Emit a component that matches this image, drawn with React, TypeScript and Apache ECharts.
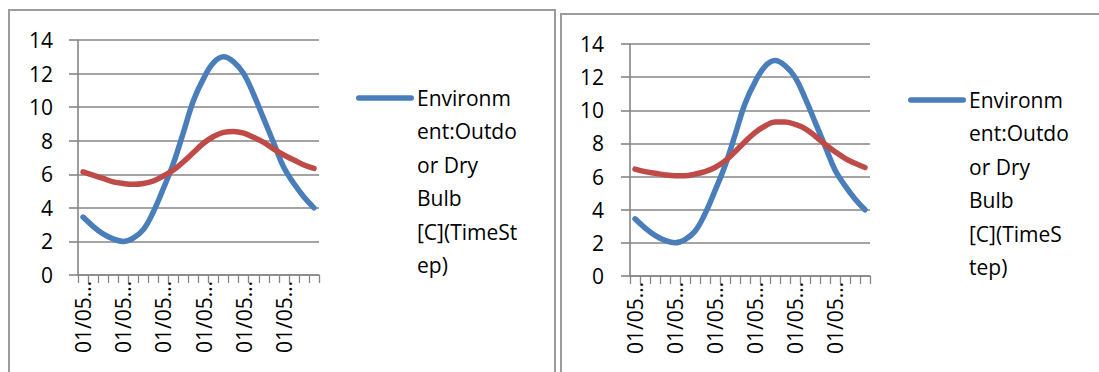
import React, { useEffect, useRef } from "react";
import * as echarts from "echarts";

// ---- data ----
const HOURS = ["01","02","03","04","05","06","07","08","09","10","11","12","13","14","15","16","17","18","19","20","21","22","23","24"];
const CATEGORIES = HOURS.map((h) => `01/05  ${h}:00:00`);

const OUTDOOR_NAME = "Environment:Outdoor Dry Bulb [C](TimeStep)";
const SECOND_NAME = "Series2";

const outdoorDryBulb = [3.45, 2.9, 2.45, 2.15, 2.0, 2.2, 2.7, 3.75, 5.15, 6.65, 8.5, 10.4, 11.7, 12.65, 13.0, 12.7, 12.0, 10.75, 9.3, 7.85, 6.4, 5.45, 4.65, 4.0];
const redLeft = [6.15, 5.95, 5.75, 5.55, 5.45, 5.4, 5.45, 5.6, 5.9, 6.25, 6.75, 7.3, 7.85, 8.25, 8.5, 8.55, 8.45, 8.2, 7.9, 7.5, 7.15, 6.85, 6.55, 6.35];
const redRight = [6.45, 6.3, 6.2, 6.1, 6.05, 6.05, 6.15, 6.3, 6.55, 6.95, 7.5, 8.1, 8.65, 9.05, 9.3, 9.3, 9.15, 8.9, 8.45, 7.95, 7.5, 7.1, 6.8, 6.55];

const Y_MIN = 0;
const Y_MAX = 14;
const Y_STEP = 2;

const LEGEND_LINES_LEFT = ["Environm", "ent:Outdo", "or Dry", "Bulb", "[C](TimeSt", "ep)"];
const LEGEND_LINES_RIGHT = ["Environm", "ent:Outdo", "or Dry", "Bulb", "[C](TimeS", "tep)"];

// ---- style ----
const FONT = '"Open Sans", sans-serif';
const BLUE = "#4a7ebb";
const RED = "#be4b48";
const GRID_GRAY = "#868686";
const BOX_GRAY = "#9c9c9c";
const AXIS_FONT_SIZE = 21;
const LEGEND_FONT_SIZE = 21;

function makeAxes(gridIndex: number, labelMargin: number) {
  const xAxis = {
    type: "category",
    gridIndex,
    data: CATEGORIES,
    boundaryGap: true,
    axisLine: { lineStyle: { color: GRID_GRAY, width: 1.6 } },
    axisTick: { show: true, interval: 0, length: 8, lineStyle: { color: GRID_GRAY, width: 1.3 } },
    axisLabel: {
      interval: 3,
      rotate: 90,
      margin: 6,
      color: "#000",
      fontFamily: FONT,
      fontSize: AXIS_FONT_SIZE,
      formatter: (v: string) => v.slice(0, 5) + "\u2026",
    },
    splitLine: { show: false },
  };
  const yAxis = {
    type: "value",
    gridIndex,
    min: Y_MIN,
    max: Y_MAX,
    interval: Y_STEP,
    axisLine: { show: true, lineStyle: { color: GRID_GRAY, width: 1.6 } },
    axisTick: { show: true, length: 9, lineStyle: { color: GRID_GRAY, width: 1.6 } },
    axisLabel: { margin: labelMargin, color: "#000", fontFamily: FONT, fontSize: AXIS_FONT_SIZE },
    splitLine: { show: true, lineStyle: { color: GRID_GRAY, width: 1.6 } },
  };
  return { xAxis, yAxis };
}

function lineSeries(name: string, data: number[], color: string, idx: number) {
  return {
    type: "line",
    name,
    data,
    xAxisIndex: idx,
    yAxisIndex: idx,
    smooth: 0.4,
    showSymbol: false,
    symbol: "none",
    lineStyle: { color, width: 5.5, cap: "round", join: "round" },
    itemStyle: { color },
    z: color === BLUE ? 3 : 4,
  };
}

function legendGraphic(x: number, cy: number, lines: string[]) {
  return [
    {
      type: "rect",
      silent: true,
      shape: { x: x, y: cy - 2.75, width: 58, height: 5.5, r: 2.75 },
      style: { fill: BLUE },
    },
    {
      type: "text",
      silent: true,
      x: x + 61,
      y: cy - 16.7,
      style: {
        text: lines.join("\n"),
        fontFamily: FONT,
        fontSize: LEGEND_FONT_SIZE,
        lineHeight: 33.4,
        fill: "#000",
        align: "left",
        verticalAlign: "top",
      },
    },
  ];
}

export default function App() {
  const ref = useRef<HTMLDivElement>(null);

  useEffect(() => {
    if (!ref.current) return;
    const chart = echarts.init(ref.current, undefined, { renderer: "svg" });
    const a0 = makeAxes(0, 25);
    const a1 = makeAxes(1, 26);
    chart.setOption({
      animation: false,
      backgroundColor: "#fff",
      grid: [
        { left: 78, top: 40, width: 241, height: 235 },
        { left: 630, top: 44, width: 240, height: 232 },
      ],
      xAxis: [a0.xAxis, a1.xAxis],
      yAxis: [a0.yAxis, a1.yAxis],
      series: [
        lineSeries(OUTDOOR_NAME, outdoorDryBulb, BLUE, 0),
        lineSeries(SECOND_NAME, redLeft, RED, 0),
        lineSeries(OUTDOOR_NAME, outdoorDryBulb, BLUE, 1),
        lineSeries(SECOND_NAME, redRight, RED, 1),
      ],
      graphic: [
        {
          type: "rect",
          silent: true,
          shape: { x: 9, y: 10, width: 546, height: 420 },
          style: { fill: "none", stroke: BOX_GRAY, lineWidth: 2 },
        },
        {
          type: "rect",
          silent: true,
          shape: { x: 561, y: 14, width: 600, height: 420 },
          style: { fill: "none", stroke: BOX_GRAY, lineWidth: 2 },
        },
        ...legendGraphic(356, 98, LEGEND_LINES_LEFT),
        ...legendGraphic(908, 100, LEGEND_LINES_RIGHT),
      ],
    });
    return () => chart.dispose();
  }, []);

  return (
    <div
      ref={ref}
      style={{ position: "fixed", left: 0, top: 0, width: 1099, height: 372 }}
    />
  );
}
